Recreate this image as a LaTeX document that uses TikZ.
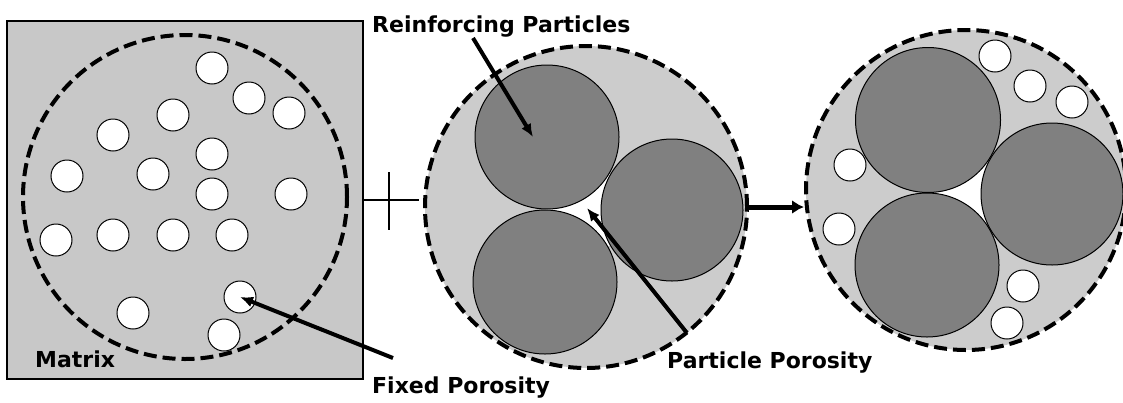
\documentclass[tikz,border=0pt]{standalone}
\usepackage{fontspec}
\setmainfont{DejaVu Sans}
\usepackage{tikz}
\definecolor{matrixgray}{RGB}{200,200,200}
\definecolor{shellgray}{RGB}{204,204,204}
\definecolor{partgray}{RGB}{128,128,128}
\usetikzlibrary{arrows.meta}

\begin{document}
\begin{tikzpicture}[x=1pt, y=-1pt,
				pore/.style={circle, draw, fill=white, line width=1pt, minimum size=32pt, inner sep=0pt},
				particle/.style={circle, draw, fill=partgray, line width=1pt, minimum size=#1, inner sep=0pt},
				shell/.style={circle, draw, dash pattern=on 13pt off 6pt, line width=4pt, minimum size=#1, inner sep=0pt},
				txt/.style={inner sep=0pt, anchor=base west},
				pointer/.style={-{Latex[length=13pt,width=11pt]}, line width=4pt},
				font=\bfseries\fontsize{22}{26}\selectfont]
				\useasboundingbox (0,0) rectangle (1123,402);
				% Matrix mit Poren
				\node[draw, fill=matrixgray, line width=2.5pt, minimum width=356pt, minimum height=358pt, inner sep=0pt] (box) at (185,200) {};
				\node[shell=324pt] (l) at (185,197) {};
				\foreach \x/\y [count=\i] in {212/68, 249/98, 289/113, 173/115, 113/135, 212/154, 67/176, 153/174, 212/194,
						291/194, 56/240, 113/235, 173/235, 232/235, 240/297, 133/313, 224/335}
					\node[pore] (p\i) at (\x,\y) {};
				\node[txt] (mx) at (35,367) {Matrix};
				% Plus
				\coordinate (plus) at (389,200);
				\draw[line width=2.5pt] (box.east) -- (box.east -| 419,0);
				\draw[line width=2.5pt] (plus) ++(0,-28) -- ++(0,58);
				% Partikel
				\node[shell=322pt, fill=shellgray] (m) at (586,207) {};
				\coordinate (c1) at (547,137);
				\coordinate (c2) at (672,210);
				\coordinate (c3) at (545,282);
				\fill[white] (c1) -- (c2) -- (c3) -- cycle;
				\node[particle=144pt] (a1) at (c1) {};
				\node[particle=142pt] (a2) at (c2) {};
				\node[particle=144pt] (a3) at (c3) {};
				% Ergebnis
				\node[shell=320pt, fill=shellgray] (r) at (966,190) {};
				\coordinate (d1) at (928,120);
				\coordinate (d2) at (1052,194);
				\coordinate (d3) at (927,265);
				\fill[white] (d1) -- (d2) -- (d3) -- cycle;
				\node[particle=145pt] (b1) at (d1) {};
				\node[particle=142pt] (b2) at (d2) {};
				\node[particle=144pt] (b3) at (d3) {};
				\foreach \x/\y [count=\i] in {995/56, 1030/86, 1072/102, 850/165, 839/229, 1023/286, 1007/323}
					\node[pore] (q\i) at (\x,\y) {};
				\draw[-{Latex[length=12pt,width=14pt]}, line width=5pt] (m.east) -- (m.east -| r.west);
				% Beschriftung
				\node[txt] (rp) at (372,32) {Reinforcing Particles};
				\node[txt] (fp) at (372,393) {Fixed Porosity};
				\node[txt] (pp) at (667,368) {Particle Porosity};
				\coordinate (rptail) at (473,38);
				\coordinate (rptip) at (533,137);
				\coordinate (fptail) at (393,358);
				\coordinate (pptail) at (687,333);
				\coordinate (gap) at (587,208);
				\draw[pointer] (rptail) -- (rptip);
				\draw[pointer] (fptail) -- (p15.center);
				\draw[pointer] (pptail) -- (gap);
			\end{tikzpicture}
\end{document}
